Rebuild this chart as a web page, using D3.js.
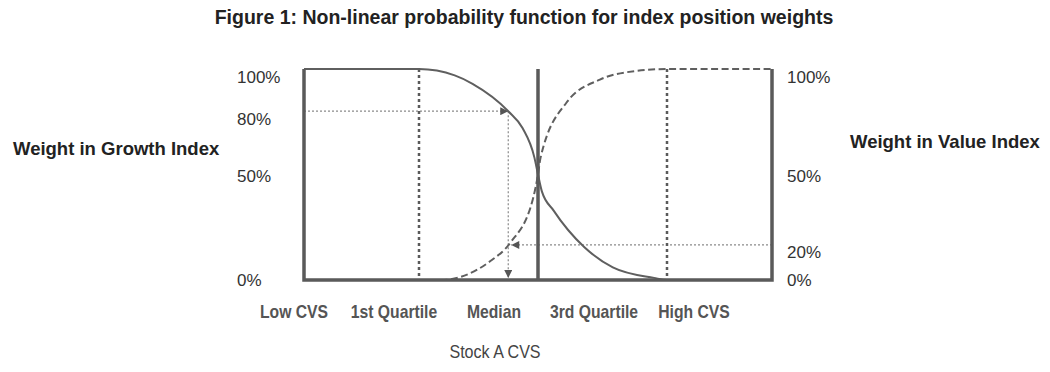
<!DOCTYPE html>
<html>
<head>
<meta charset="utf-8">
<script src="https://cdn.jsdelivr.net/npm/d3@7"></script>
<style>
  body { margin: 0; background: #fff; }
  .curve { fill: none; stroke: #5f5f5f; stroke-width: 2; }
  .frame { fill: none; stroke: #5a5a5a; stroke-width: 3.5; }
  .quartile { stroke: #5a5a5a; stroke-width: 2.5; stroke-dasharray: 3,3; }
  .guide { stroke: #8a8a8a; stroke-width: 1.2; stroke-dasharray: 2,2; }
</style>
</head>
<body>
<svg id="chart"></svg>
<script>
// x positions are in CVS "units": Low=0, Q1=1, Median=2, Q3=3, High=4
const categories = ["Low CVS", "1st Quartile", "Median", "3rd Quartile", "High CVS"];

// growth index weight (solid line)
const growthCvs = [0, 1, 1.3, 1.45, 1.75, 1.87, 1.97, 2.0, 2.03, 2.12, 2.36, 2.58, 2.9, 3, 4];
const growthWeight = [1, 1, 0.97, 0.93, 0.8, 0.72, 0.58, 0.5, 0.42, 0.33, 0.155, 0.06, 0.01, 0, 0];

// value index weight (dashed line)
const valueCvs = [0, 1, 1.18, 1.6, 1.765, 1.96, 2.0, 2.02, 2.22, 2.48, 2.75, 3, 4];
const valueWeight = [0, 0, 0, 0.09, 0.175, 0.39, 0.5, 0.58, 0.84, 0.95, 0.99, 1, 1];

// Stock A example: CVS reading and its two weights
const stockCvs = 1.75;
const stockGrowth = 0.8;
const stockValue = 0.166;

// tick labels and where they sit on the weight axis
const leftTicks = ["100%", "80%", "50%", "0%"];
const leftTickPos = [0.96, 0.76, 0.49, 0];
const rightTicks = ["100%", "50%", "20%", "0%"];
const rightTickPos = [0.96, 0.49, 0.13, 0];

const width = 1050;
const height = 372;

const svg = d3.select("#chart").attr("width", width).attr("height", height);

// scales
const x = d3.scaleLinear().domain([0, 1, 2, 3, 4]).range([304, 419, 538, 667, 772]);
const y = d3.scaleLinear().domain([0, 1]).range([280, 69]);
const xLabel = d3.scalePoint().domain(categories).range([294, 694]);

// arrow marker
svg.append("defs")
  .append("marker")
  .attr("id", "arrow")
  .attr("viewBox", "0 0 10 10")
  .attr("refX", 10)
  .attr("refY", 5)
  .attr("markerWidth", 9)
  .attr("markerHeight", 8)
  .attr("markerUnits", "userSpaceOnUse")
  .attr("orient", "auto")
  .append("path")
  .attr("d", "M0,0L10,5L0,10Z")
  .attr("fill", "#555");

// title
svg.append("text")
  .attr("x", 524)
  .attr("y", 24)
  .attr("text-anchor", "middle")
  .style("font-family", "'Liberation Sans', Arial, sans-serif")
  .style("font-weight", "bold")
  .style("font-size", "19.5px")
  .style("fill", "#222")
  .text("Figure 1: Non-linear probability function for index position weights");

// guide arrows for stock A
svg.append("line").attr("class", "guide")
  .attr("x1", x(0)).attr("x2", x(stockCvs))
  .attr("y1", y(stockGrowth)).attr("y2", y(stockGrowth))
  .attr("marker-end", "url(#arrow)");

svg.append("line").attr("class", "guide")
  .attr("x1", x(stockCvs)).attr("x2", x(stockCvs))
  .attr("y1", y(stockGrowth)).attr("y2", y(0) - 2)
  .attr("marker-end", "url(#arrow)");

svg.append("line").attr("class", "guide")
  .attr("x1", x(4)).attr("x2", x(stockCvs) + 3)
  .attr("y1", y(stockValue)).attr("y2", y(stockValue))
  .attr("marker-end", "url(#arrow)");

// quartile lines
svg.selectAll(".quartile")
  .data([1, 3])
  .enter()
  .append("line")
  .attr("class", "quartile")
  .attr("x1", (d) => x(d)).attr("x2", (d) => x(d))
  .attr("y1", y(1)).attr("y2", y(0));

// curves
const line = d3.line()
  .x((d) => x(d[0]))
  .y((d) => y(d[1]))
  .curve(d3.curveMonotoneX);

svg.append("path")
  .datum(d3.zip(growthCvs, growthWeight))
  .attr("class", "curve")
  .attr("d", line);

svg.append("path")
  .datum(d3.zip(valueCvs, valueWeight))
  .attr("class", "curve")
  .attr("stroke-dasharray", "7,3.5")
  .attr("d", line);

// frame: left, right, bottom and the median line
svg.append("path")
  .attr("class", "frame")
  .attr("d", `M${x(0)},${y(1)}V${y(0)}H${x(4)}V${y(1)}`);

svg.append("line")
  .attr("class", "frame")
  .attr("x1", x(2)).attr("x2", x(2))
  .attr("y1", y(1)).attr("y2", y(0));

// percentage labels
const tickFont = (sel) => sel
  .style("font-family", "'Liberation Sans', Arial, sans-serif")
  .style("font-size", "17px")
  .style("fill", "#333")
  .attr("dominant-baseline", "central");

svg.selectAll(".ltick")
  .data(leftTicks)
  .enter()
  .append("text")
  .attr("class", "ltick")
  .attr("x", 237)
  .attr("y", (d, i) => y(leftTickPos[i]))
  .call(tickFont)
  .text((d) => d);

svg.selectAll(".rtick")
  .data(rightTicks)
  .enter()
  .append("text")
  .attr("class", "rtick")
  .attr("x", 787)
  .attr("y", (d, i) => y(rightTickPos[i]))
  .call(tickFont)
  .text((d) => d);

// axis titles
svg.append("text")
  .attr("x", 13)
  .attr("y", 155)
  .style("font-family", "'Liberation Sans', Arial, sans-serif")
  .style("font-weight", "bold")
  .style("font-size", "18.5px")
  .style("fill", "#222")
  .text("Weight in Growth Index");

svg.append("text")
  .attr("x", 850)
  .attr("y", 148)
  .style("font-family", "'Liberation Sans', Arial, sans-serif")
  .style("font-weight", "bold")
  .style("font-size", "18.5px")
  .style("fill", "#222")
  .text("Weight in Value Index");

// category labels along the bottom (narrow face, squeezed horizontally)
svg.selectAll(".cat")
  .data(categories)
  .enter()
  .append("text")
  .attr("class", "cat")
  .attr("transform", (d) => `translate(${xLabel(d)},318) scale(0.85,1)`)
  .attr("text-anchor", "middle")
  .style("font-family", "'Liberation Sans', Arial, sans-serif")
  .style("font-weight", "bold")
  .style("font-size", "18.5px")
  .style("fill", "#555")
  .text((d) => d);

svg.append("text")
  .attr("transform", "translate(495,358) scale(0.87,1)")
  .attr("text-anchor", "middle")
  .style("font-family", "'Liberation Sans', Arial, sans-serif")
  .style("font-size", "18.5px")
  .style("fill", "#444")
  .text("Stock A CVS");
</script>
</body>
</html>
